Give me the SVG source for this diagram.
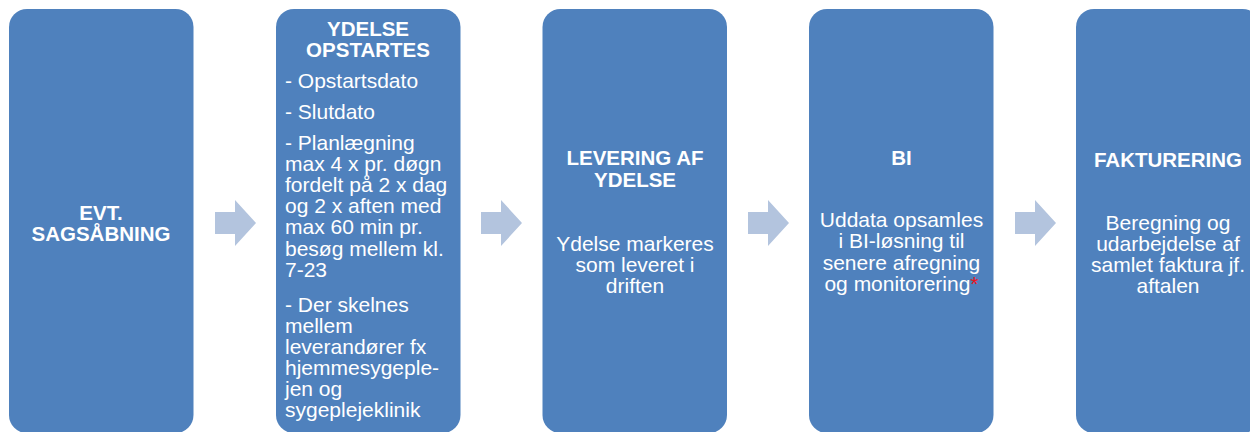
<svg xmlns="http://www.w3.org/2000/svg" width="1250" height="432" viewBox="0 0 1250 432">
<style>
.box{fill:#4f81bd;}
.arr{fill:#b3c4de;}
.t{font-family:"Liberation Sans",Arial,sans-serif;fill:#ffffff;}
.b{font-weight:bold;font-size:20.5px;}
.r{font-size:21px;}
.c{text-anchor:middle;}
.red{fill:#e8141c;}
</style>
<defs>
<path id="arrow" d="M-20,-11 H0 V-23 L21,0 L0,23 V11 H-20 Z"/>
</defs>
<g id="connectors">
<use href="#arrow" class="arr" x="235" y="223"/>
<use href="#arrow" class="arr" x="501" y="223"/>
<use href="#arrow" class="arr" x="768" y="223"/>
<use href="#arrow" class="arr" x="1035" y="223"/>
</g>
<g id="node1">
<rect class="box" x="9" y="9" width="184.5" height="424" rx="18"/>
<text class="t b c"><tspan x="101" y="220">EVT.</tspan><tspan x="101" y="241">SAGSÅBNING</tspan></text>
</g>
<g id="node2">
<rect class="box" x="276" y="9" width="184.5" height="424" rx="18"/>
<text class="t b c"><tspan x="368" y="36">YDELSE</tspan><tspan x="368" y="57">OPSTARTES</tspan></text>
<text class="t r">
<tspan x="285" y="88">- Opstartsdato</tspan>
<tspan x="285" y="119">- Slutdato</tspan>
<tspan x="285" y="150">- Planlægning</tspan>
<tspan x="285" y="171.1">max 4 x pr. døgn</tspan>
<tspan x="285" y="192.2">fordelt på 2 x dag</tspan>
<tspan x="285" y="213.3">og 2 x aften med</tspan>
<tspan x="285" y="234.4">max 60 min pr.</tspan>
<tspan x="285" y="255.5">besøg mellem kl.</tspan>
<tspan x="285" y="276.6">7-23</tspan>
<tspan x="285" y="311.5">- Der skelnes</tspan>
<tspan x="285" y="332.6">mellem</tspan>
<tspan x="285" y="353.7">leverandører fx</tspan>
<tspan x="285" y="374.8">hjemmesygeple-</tspan>
<tspan x="285" y="395.9">jen og</tspan>
<tspan x="285" y="417">sygeplejeklinik</tspan>
</text>
</g>
<g id="node3">
<rect class="box" x="542.5" y="9" width="184.5" height="424" rx="18"/>
<text class="t b c"><tspan x="635" y="165">LEVERING AF</tspan><tspan x="635" y="186.5">YDELSE</tspan></text>
<text class="t r c"><tspan x="635" y="250.5">Ydelse markeres</tspan><tspan x="635" y="271.8">som leveret i</tspan><tspan x="635" y="293">driften</tspan></text>
</g>
<g id="node4">
<rect class="box" x="809" y="9" width="184.5" height="424" rx="18"/>
<text class="t b c"><tspan x="901.5" y="165">BI</tspan></text>
<text class="t r c"><tspan x="901.5" y="227">Uddata opsamles</tspan><tspan x="901.5" y="248.3">i BI-løsning til</tspan><tspan x="901.5" y="269.6">senere afregning</tspan><tspan x="901.5" y="291">og monitorering<tspan class="red">*</tspan></tspan></text>
</g>
<g id="node5">
<rect class="box" x="1076" y="9" width="184.5" height="424" rx="18"/>
<text class="t b c"><tspan x="1168" y="166.5">FAKTURERING</tspan></text>
<text class="t r c"><tspan x="1168" y="230">Beregning og</tspan><tspan x="1168" y="251">udarbejdelse af</tspan><tspan x="1168" y="272">samlet faktura jf.</tspan><tspan x="1168" y="293">aftalen</tspan></text>
</g>
</svg>
